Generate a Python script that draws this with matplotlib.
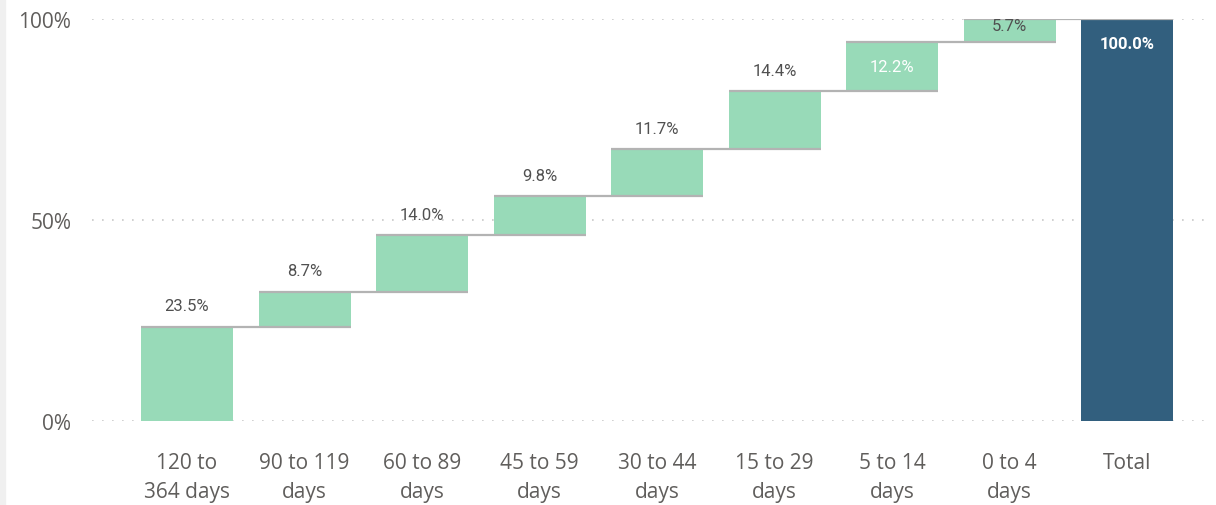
import matplotlib
matplotlib.use("Agg")
import matplotlib.pyplot as plt
import numpy as np

categories = ["120 to\n364 days", "90 to 119\ndays", "60 to 89\ndays", "45 to 59\ndays",
              "30 to 44\ndays", "15 to 29\ndays", "5 to 14\ndays", "0 to 4\ndays", "Total"]
increments = [23.5, 8.7, 14.0, 9.8, 11.7, 14.4, 12.2, 5.7]
total_value = 100.0

W, H = 1216, 506
fig = plt.figure(figsize=(W / 100, H / 100), dpi=100)
fig.patch.set_facecolor("white")
# light strip at left edge
fig.patches.append(plt.Rectangle((0, 0), 5 / W, 1, transform=fig.transFigure,
                                 color="#f0f0f0", zorder=0))

ax = fig.add_axes([92 / W, (H - 422) / H, (1208 - 92) / W, 402 / H])
step = 117.5
x0 = (187 - 92) / step
ax.set_xlim(-x0, -x0 + (1208 - 92) / step)
ax.set_ylim(0, 100)

green = "#98dab8"
navy = "#325f7e"
width = 92 / step

bottoms = np.concatenate([[0], np.cumsum(increments)[:-1]])
tops = np.cumsum(increments)
n = len(increments)
ax.bar(np.arange(n), increments, bottom=bottoms, width=width, color=green, zorder=2)
ax.bar([n], [total_value], width=width, color=navy, zorder=2)

# connector lines: level after bar i from bar i left to bar i+1 right
for i, lv in enumerate(tops):
    xl = i - width / 2
    xr = i + 1 + width / 2
    ax.plot([xl, xr], [lv, lv], color="#b3b3b3", lw=1.6, zorder=3, solid_capstyle="butt")

# gridlines
for y in [0, 50, 100]:
    ax.axhline(y, color="#c8c8c8", lw=1.2, linestyle=(0, (1, 5)), zorder=1)

lab_font = dict(family=["Roboto", "DejaVu Sans"], fontsize=12)
for i, (b, v) in enumerate(zip(bottoms, increments)):
    txt = f"{v:.1f}%"
    if i == 6:
        ax.text(i, b + v / 2, txt, ha="center", va="center", color="white", zorder=4, **lab_font)
    elif i == 7:
        ax.text(i, b + v + 0.3, txt, ha="center", va="top", color="#505050", zorder=4, **lab_font)
    else:
        ax.text(i, b + v + 3.3, txt, ha="center", va="bottom", color="#505050", zorder=4, **lab_font)
ax.text(n, total_value - 6, f"{total_value:.1f}%", ha="center", va="center",
        color="white", zorder=4, fontweight="bold", **lab_font)

ax.set_xticks(range(n + 1))
ax.set_xticklabels(categories, family=["Open Sans", "DejaVu Sans"], fontsize=15,
                   color="#605e5c", linespacing=1.5)
ax.set_yticks([0, 50, 100])
ax.set_yticklabels(["0%", "50%", "100%"], family=["Open Sans", "DejaVu Sans"],
                   fontsize=15, color="#605e5c")
ax.tick_params(axis="x", length=0, pad=22)
ax.tick_params(axis="y", length=0, pad=15)
for s in ax.spines.values():
    s.set_visible(False)

fig.savefig("out.png", dpi=100)
